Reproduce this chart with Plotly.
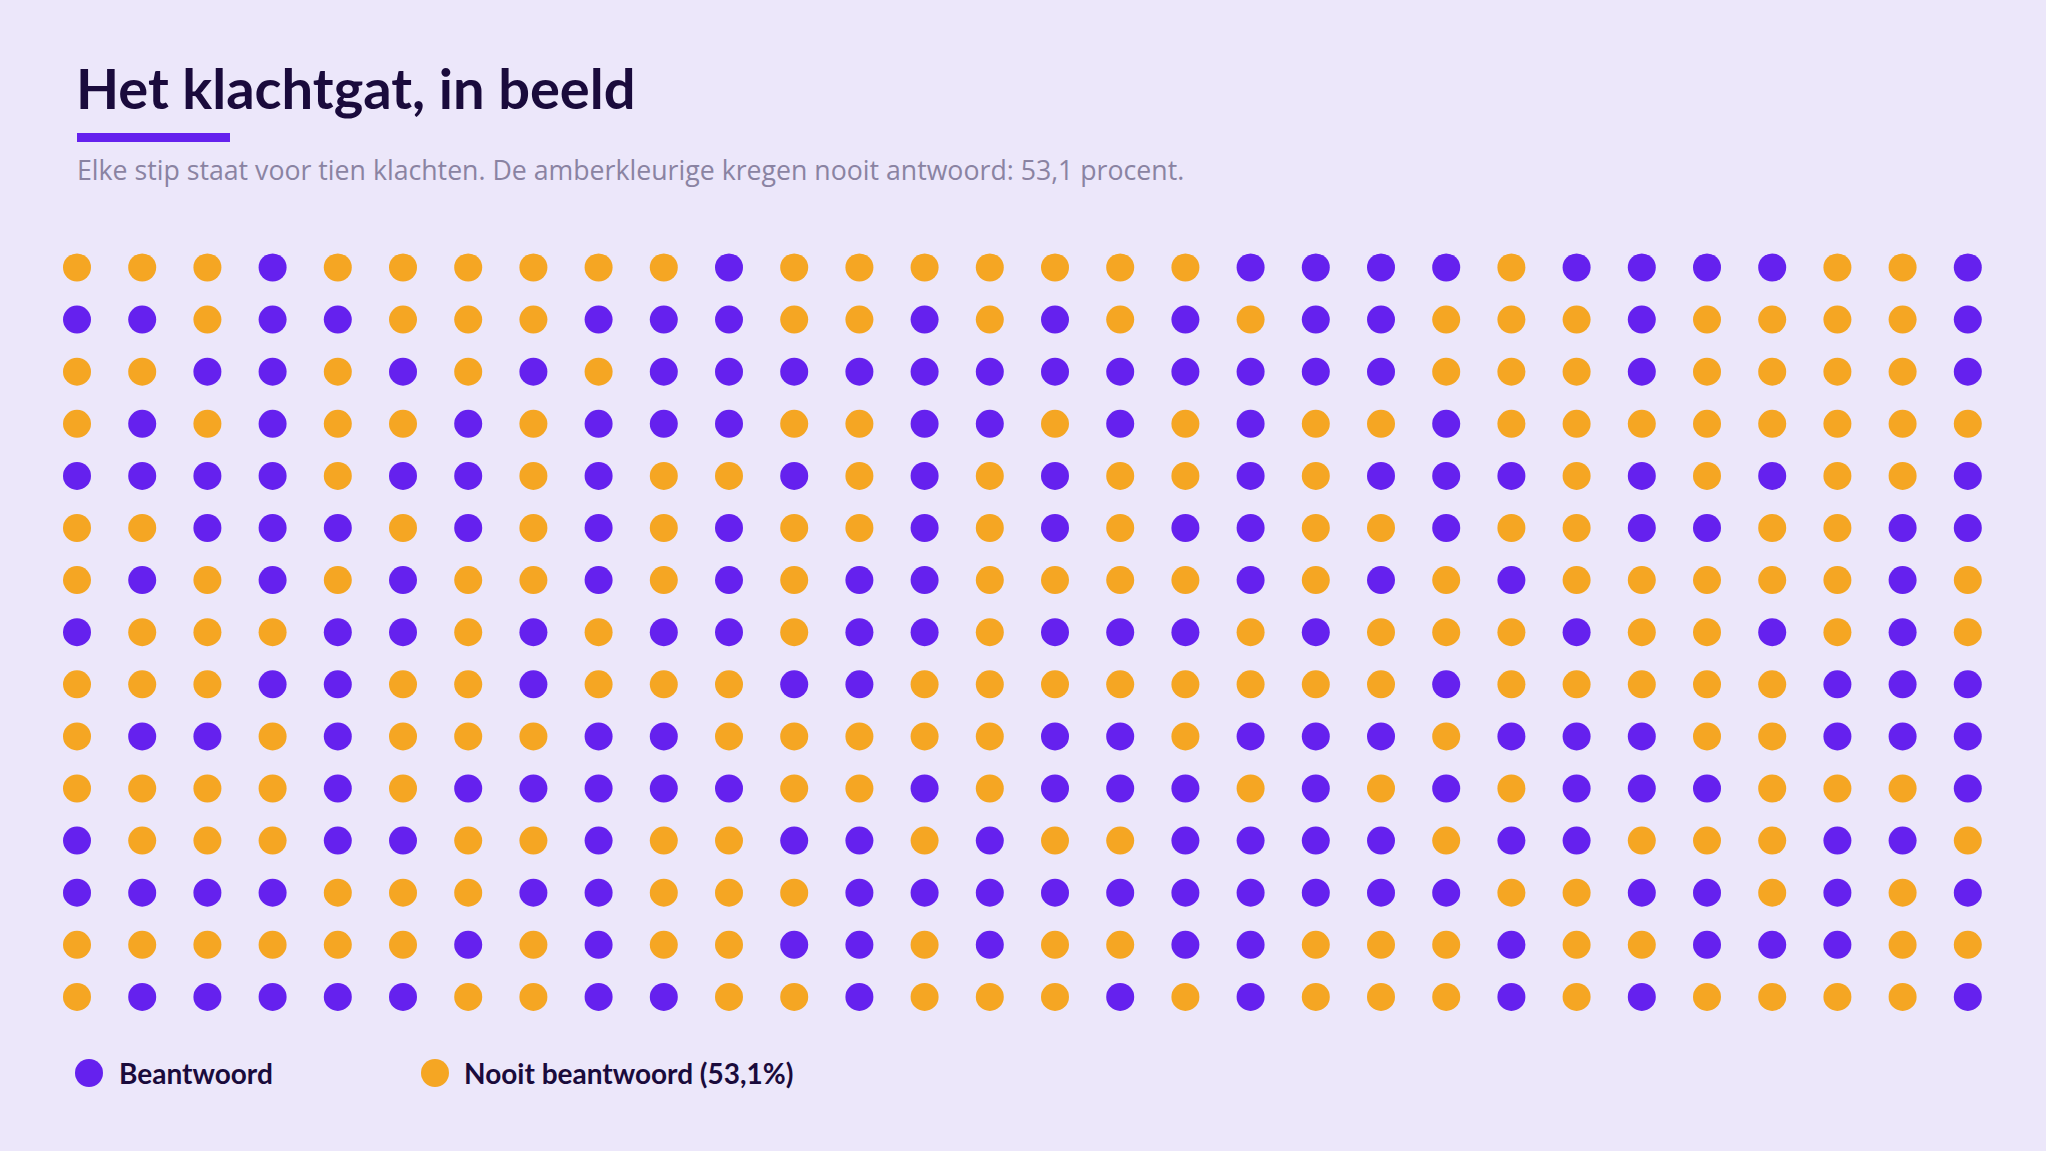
import plotly.graph_objects as go

# A = nooit beantwoord (amber), P = beantwoord (purple); 15 rows x 30 columns, one dot = ten complaints
grid_rows = [
    "AAAPAAAAAAPAAAAAAAPPPPAPPPPAAP",
    "PPAPPAAAPPPAAPAPAPAPPAAAPAAAAP",
    "AAPPAPAPAPPPPPPPPPPPPAAAPAAAAP",
    "APAPAAPAPPPAAPPAPAPAAPAAAAAAAA",
    "PPPPAPPAPAAPAPAPAAPAPPPAPAPAAP",
    "AAPPPAPAPAPAAPAPAPPAAPAAPPAAPP",
    "APAPAPAAPAPAPPAAAAPAPAPAAAAAPA",
    "PAAAPPAPAPPAPPAPPPAPAAAPAAPAPA",
    "AAAPPAAPAAAPPAAAAAAAAPAAAAAPPP",
    "APPAPAAAPPAAAAAPPAPPPAPPPAAPPP",
    "AAAAPAPPPPPAAPAPPPAPAPAPPPAAAP",
    "PAAAPPAAPAAPPAPAAPPPPAPPAAAPPA",
    "PPPPAAAPPAAAPPPPPPPPPPAAPPAPAP",
    "AAAAAAPAPAAPPAPAAPPAAAPAAPPPAA",
    "APPPPPAAPPAAPAAAPAPAAAPAPAAAAP",
]

title = "Het klachtgat, in beeld"
subtitle = "Elke stip staat voor tien klachten. De amberkleurige kregen nooit antwoord: 53,1 procent."
legend_labels = ["Beantwoord", "Nooit beantwoord (53,1%)"]

PURPLE = "#6521EE"
AMBER = "#F5A623"
BG = "#ECE7FA"
INK = "#1A0B3C"
MUTED = "#8A83A2"

W, H = 2046, 1151
x0_px, dx_px = 77, 65.2
y0_px, dy_px = 267.5, 52.1

px, py, pa_x, pa_y = [], [], [], []
for r, row in enumerate(grid_rows):
    for c, ch in enumerate(row):
        if ch == "P":
            px.append(c); py.append(r)
        else:
            pa_x.append(c); pa_y.append(r)

fig = go.Figure()
fig.add_trace(go.Scatter(x=px, y=py, mode="markers", name=legend_labels[0],
                         marker=dict(size=28, color=PURPLE, line=dict(width=0)),
                         hoverinfo="skip", showlegend=False))
fig.add_trace(go.Scatter(x=pa_x, y=pa_y, mode="markers", name=legend_labels[1],
                         marker=dict(size=28, color=AMBER, line=dict(width=0)),
                         hoverinfo="skip", showlegend=False))

xr = [-x0_px / dx_px, (W - x0_px) / dx_px]
yr = [(H - y0_px) / dy_px, -y0_px / dy_px]

def pxx(v):
    return v / W

def pxy(v):
    return 1 - v / H

shapes = [
    dict(type="rect", xref="paper", yref="paper", x0=pxx(77), x1=pxx(230), y0=pxy(142), y1=pxy(133),
         fillcolor=PURPLE, line=dict(width=0), layer="above"),
    dict(type="circle", xref="paper", yref="paper", x0=pxx(89 - 14), x1=pxx(89 + 14),
         y0=pxy(1073 + 14), y1=pxy(1073 - 14), fillcolor=PURPLE, line=dict(width=0)),
    dict(type="circle", xref="paper", yref="paper", x0=pxx(435 - 14), x1=pxx(435 + 14),
         y0=pxy(1073 + 14), y1=pxy(1073 - 14), fillcolor=AMBER, line=dict(width=0)),
]

annotations = [
    dict(text=f"<b>{title}</b>", xref="paper", yref="paper", x=pxx(74), y=pxy(88),
         xanchor="left", yanchor="middle", showarrow=False,
         font=dict(family="Lato", size=56, color=INK)),
    dict(text=subtitle, xref="paper", yref="paper", x=pxx(75), y=pxy(169),
         xanchor="left", yanchor="middle", showarrow=False,
         font=dict(family="Open Sans", size=26.7, color=MUTED)),
    dict(text=f"<b>{legend_labels[0]}</b>", xref="paper", yref="paper", x=pxx(117), y=pxy(1073),
         xanchor="left", yanchor="middle", showarrow=False,
         font=dict(family="Lato", size=28, color=INK)),
    dict(text=f"<b>{legend_labels[1]}</b>", xref="paper", yref="paper", x=pxx(462), y=pxy(1073),
         xanchor="left", yanchor="middle", showarrow=False,
         font=dict(family="Lato", size=28, color=INK)),
]

fig.update_layout(
    width=W, height=H,
    margin=dict(l=0, r=0, t=0, b=0),
    paper_bgcolor=BG, plot_bgcolor=BG,
    xaxis=dict(range=xr, visible=False, fixedrange=True),
    yaxis=dict(range=yr, visible=False, fixedrange=True),
    shapes=shapes, annotations=annotations,
)

fig.write_html("out.html")
